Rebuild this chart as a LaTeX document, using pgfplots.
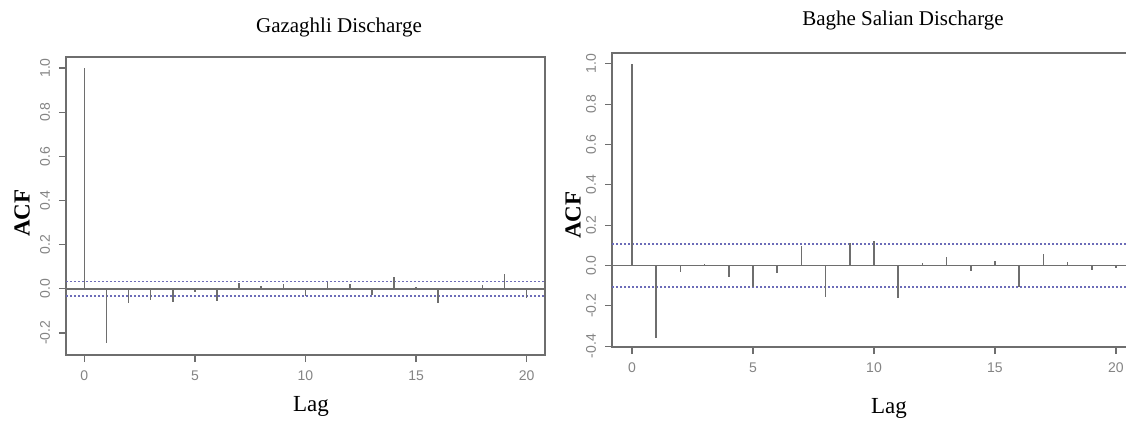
\documentclass[border=0pt]{standalone}
\usepackage{pgfplots}
\usepackage{pgfplotstable}
\pgfplotsset{compat=1.18}
\usepackage{fontspec}
\setmainfont{Liberation Serif}
\newfontfamily\rsans{Liberation Sans}
\definecolor{rgrey}{HTML}{6E6E6E}
\definecolor{ciblue}{HTML}{6C6CB8}

% ACF values
\pgfplotstableread{
lag acf
0 1.000
1 -0.245
2 -0.063
3 -0.053
4 -0.059
5 -0.014
6 -0.056
7 0.027
8 0.012
9 0.021
10 -0.033
11 0.033
12 0.021
13 -0.029
14 0.054
15 0.008
16 -0.066
17 0.003
18 0.015
19 0.068
20 -0.042
}\gaz
\pgfplotstableread{
lag acf
0 1.000
1 -0.360
2 -0.033
3 0.008
4 -0.055
5 -0.108
6 -0.038
7 0.098
8 -0.154
9 0.114
10 0.124
11 -0.163
12 0.012
13 0.041
14 -0.025
15 0.022
16 -0.104
17 0.055
18 0.017
19 -0.020
20 -0.010
}\bag

\pgfplotsset{
  racf/.style={
    scale only axis, anchor=south west,
    xmin=-0.83, xmax=20.83,
    axis line style={rgrey, line width=0.75pt},
    tick style={rgrey, line width=0.6pt},
    tick align=outside, major tick length=3.5pt,
    xtick pos=left, ytick pos=left,
    xtick={0,5,10,15,20},
    tick label style={font=\rsans\fontsize{7}{8}\selectfont, text=rgrey!85},
    /pgf/number format/assume math mode=true,
    yticklabel style={rotate=90, anchor=south, xshift=0pt, yshift=1pt},
    xticklabel style={yshift=-1pt},
    clip=false,
  },
  spike/.style={ycomb, rgrey, line width=0.8pt, no markers},
  zero/.style={rgrey, line width=0.8pt, no markers},
  ci/.style={ciblue, line width=0.9pt, dash pattern=on 1pt off 1pt, no markers},
}

\begin{document}
\begin{tikzpicture}[x=0.5pt, y=0.5pt]
\useasboundingbox (0,0) rectangle (1126,420);
\clip (0,0) rectangle (1126,420);

% left panel
\begin{axis}[racf, at={(33pt,32.5pt)}, width=239.5pt, height=149pt,
  ymin=-0.30, ymax=1.05,
  ytick={-0.2,0,0.2,0.4,0.6,0.8,1.0},
  yticklabels={-0.2,0.0,0.2,0.4,0.6,0.8,1.0}]
\addplot[zero] coordinates {(-0.83,0) (20.83,0)};
\addplot[ci] coordinates {(-0.83,0.033) (20.83,0.033)};
\addplot[ci] coordinates {(-0.83,-0.033) (20.83,-0.033)};
\addplot[spike] table[x=lag, y=acf] {\gaz};
\end{axis}

% right panel
\begin{axis}[racf, at={(306pt,36.5pt)}, width=262pt, height=147pt,
  ymin=-0.404, ymax=1.054,
  ytick={-0.4,-0.2,0,0.2,0.4,0.6,0.8,1.0},
  yticklabels={-0.4,-0.2,0.0,0.2,0.4,0.6,0.8,1.0}]
\addplot[zero] coordinates {(-0.83,0) (20.83,0)};
\addplot[ci] coordinates {(-0.83,0.105) (20.83,0.105)};
\addplot[ci] coordinates {(-0.83,-0.105) (20.83,-0.105)};
\addplot[spike] table[x=lag, y=acf] {\bag};
\end{axis}

% titles and axis labels
\node[font=\fontsize{10.5}{12}\selectfont] at (339,393) {Gazaghli Discharge};
\node[font=\fontsize{10.5}{12}\selectfont] at (903,400) {Baghe Salian Discharge};
\node[font=\fontsize{11.5}{13}\selectfont] at (311,14) {Lag};
\node[font=\fontsize{11.5}{13}\selectfont] at (889,12) {Lag};
\node[font=\bfseries\fontsize{11.5}{13}\selectfont, rotate=90] at (22,207) {ACF};
\node[font=\bfseries\fontsize{11.5}{13}\selectfont, rotate=90] at (573,205) {ACF};
\end{tikzpicture}
\end{document}
